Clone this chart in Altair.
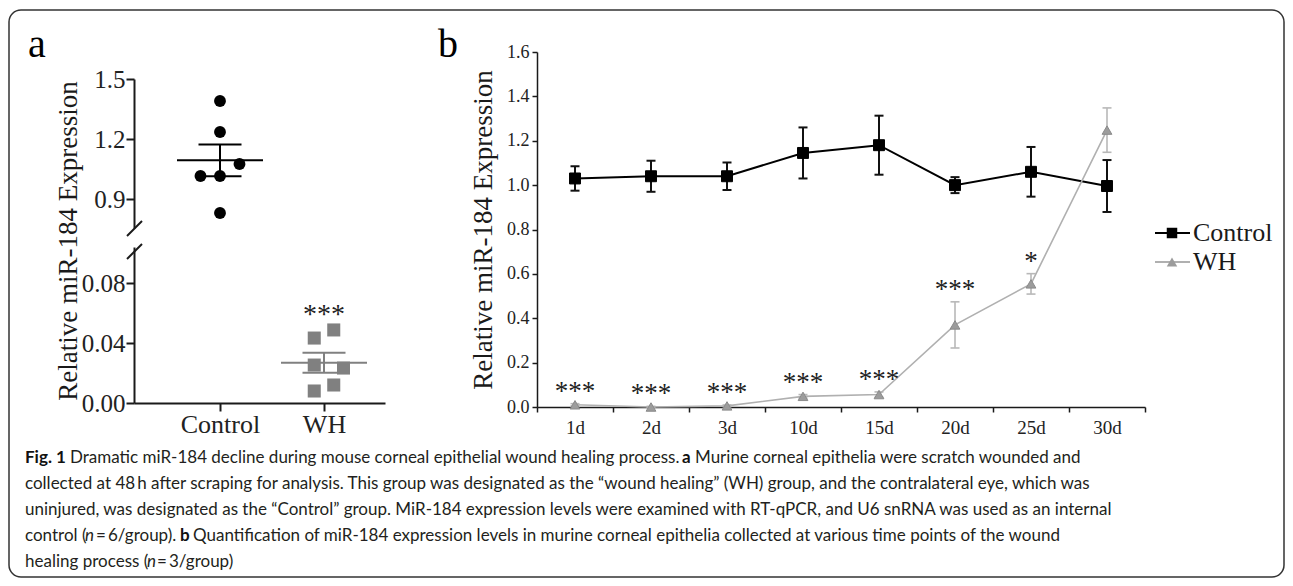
import altair as alt
import pandas as pd

# ---------------- data ----------------
GROUPS = ["Control", "WH"]
A_CONTROL = [1.39, 1.235, 1.075, 1.015, 1.015, 0.83]
A_CONTROL_COL = [0, 0, 1, -1, 0, 0]
A_WH = [0.0487, 0.0433, 0.0253, 0.0233, 0.012, 0.008]
A_WH_COL = [0.5, -0.5, -0.5, 1, 0.5, -0.5]
A_STARS = ["", "***"]
A_TICKS_UP = [0.9, 1.2, 1.5]
A_TICKS_LO = [0.0, 0.04, 0.08]

DAYS = ["1d", "2d", "3d", "10d", "15d", "20d", "25d", "30d"]
SERIES = ["Control", "WH"]
B_CONTROL = [1.03, 1.04, 1.04, 1.145, 1.18, 1.00, 1.06, 0.996]
B_CONTROL_ERR = [0.055, 0.07, 0.062, 0.115, 0.133, 0.036, 0.112, 0.117]
B_WH = [0.01, 0.0, 0.005, 0.048, 0.056, 0.37, 0.555, 1.248]
B_WH_ERR = [0.005, 0.003, 0.004, 0.008, 0.012, 0.104, 0.046, 0.10]
B_STARS = ["***", "***", "***", "***", "***", "***", "*", ""]
B_TICKS = [0.0, 0.2, 0.4, 0.6, 0.8, 1.0, 1.2, 1.4, 1.6]

Y_TITLE = "Relative miR-184 Expression"
PANEL_LETTERS = ["a", "b"]

CAP_TEXT = [
    "Fig. 1",
    "Dramatic miR-184 decline during mouse corneal epithelial wound healing process.",
    "a",
    "Murine corneal epithelia were scratch wounded and",
    "collected at 48\u2009h after scraping for analysis. This group was designated as the \u201cwound healing\u201d (WH) group, and the contralateral eye, which was",
    "uninjured, was designated as the \u201cControl\u201d group. MiR-184 expression levels were examined with RT-qPCR, and U6 snRNA was used as an internal",
    "control (",
    "n",
    "\u2009=\u20096/group).",
    "b",
    "Quantification of miR-184 expression levels in murine corneal epithelia collected at various time points of the wound",
    "healing process (",
    "n",
    "\u2009=\u20093/group)",
]

# ---------------- layout (page pixels) ----------------
W, H = 1277, 570


def c(p):
    return p - 8


SERIF = "Liberation Serif"
SANS = "Lato"
INK = "#1a1a1a"

CAP_LINE = [0, 0, 0, 0, 1, 2, 3, 3, 3, 3, 3, 4, 4, 4]
CAP_X = [25, 70, 682, 695, 25, 25, 25, 85, 96, 180, 193, 25, 147, 157]
CAP_STYLE = ["b", "n", "b", "n", "n", "n", "n", "i", "n", "b", "n", "n", "i", "n"]
CAP_Y = [458, 484, 510, 536, 562]
CAP_SIZE = 17

layers = []

# ---------------- panel a ----------------
dfa = pd.DataFrame({
    "group": ["Control"] * len(A_CONTROL) + ["WH"] * len(A_WH),
    "value": A_CONTROL + A_WH,
    "col": A_CONTROL_COL + A_WH_COL,
})
IDX = f"indexof({GROUPS!r}, datum.group)"
XA_L, XA_R, XA_0, XA_1 = 134, 385, 220, 324
XA_UNIT = XA_1 - XA_0
xa_scale = alt.Scale(domain=[(XA_L - XA_0) / XA_UNIT, (XA_R - XA_0) / XA_UNIT],
                     range=[c(XA_L), c(XA_R)], nice=False, zero=False)
COL_STEP = 19.5 / XA_UNIT

ya_up = alt.Scale(domain=[0.755, 1.5], range=[c(228), c(79)], nice=False, zero=False)
ya_lo = alt.Scale(domain=[0, 0.104], range=[c(403), c(247)], nice=False, zero=False)

axis_common_a = dict(tickSize=8, tickWidth=2, domainWidth=2, domainColor=INK, tickColor=INK,
                     labelFont=SERIF, labelColor="#222", grid=False, title="",
                     labelOverlap=False)
ax_a_up = alt.Axis(orient="left", offset=-c(XA_L), values=A_TICKS_UP, format=".1f",
                   labelFontSize=25, labelPadding=1, **axis_common_a)
ax_a_lo = alt.Axis(orient="left", offset=-c(XA_L), values=A_TICKS_LO, format=".2f",
                   labelFontSize=25, labelPadding=1, **axis_common_a)
ax_a_x = alt.Axis(orient="bottom", offset=-(H - c(403)), values=[0, 1],
                  labelExpr=f"{GROUPS!r}[datum.value]", labelFontSize=26, labelPadding=0,
                  labelFlush=False, labelAngle=0, **axis_common_a)


def a_layers(group, yscale, color, shape, size, yaxis, xaxis):
    src = alt.Chart(dfa).transform_filter(f"datum.group == '{group}'")
    agg = src.transform_aggregate(
        mean="mean(value)", sem="stderr(value)", top="max(value)", groupby=["group"]
    ).transform_calculate(
        xi=IDX, lo="datum.mean - datum.sem", hi="datum.mean + datum.sem",
        star=f"{A_STARS!r}[{IDX}]")
    X = alt.X("xi:Q", scale=xa_scale, axis=None)
    vert = agg.mark_rule(strokeWidth=2, color=color).encode(
        x=X, y=alt.Y("lo:Q", scale=yscale, axis=None), y2="hi:Q")
    mean = agg.mark_tick(orient="horizontal", size=86, thickness=2, color=color, opacity=1).encode(
        x=X, y=alt.Y("mean:Q", scale=yscale, axis=None))
    cap_hi = agg.mark_tick(orient="horizontal", size=43, thickness=2, color=color, opacity=1).encode(
        x=X, y=alt.Y("hi:Q", scale=yscale, axis=None))
    cap_lo = agg.mark_tick(orient="horizontal", size=43, thickness=2, color=color, opacity=1).encode(
        x=X, y=alt.Y("lo:Q", scale=yscale, axis=None))
    pts = src.transform_calculate(xp=f"{IDX} + datum.col * {COL_STEP}").mark_point(
        filled=True, shape=shape, size=size, color=color, opacity=1).encode(
        x=alt.X("xp:Q", scale=xa_scale, axis=xaxis),
        y=alt.Y("value:Q", scale=yscale, axis=yaxis))
    star = agg.mark_text(font=SERIF, fontSize=28, dy=-7, baseline="alphabetic", color="#222").encode(
        x=X, y=alt.Y("top:Q", scale=yscale, axis=None), text="star:N")
    return [vert, mean, cap_hi, cap_lo, pts, star]


layers += a_layers("Control", ya_up, "#000000", "circle", 140, ax_a_up, None)
layers += a_layers("WH", ya_lo, "#808080", "square", 170, ax_a_lo, ax_a_x)

# axis break slashes
one = pd.DataFrame({"k": [0]})
for (x1, y1, x2, y2) in [(127, 236, 142, 221), (127, 259, 142, 244)]:
    layers.append(alt.Chart(one).mark_rule(strokeWidth=2, color=INK).encode(
        x=alt.value(c(x1)), x2=alt.value(c(x2)), y=alt.value(c(y1)), y2=alt.value(c(y2))))

# ---------------- panel b ----------------
dfb = pd.DataFrame({
    "day": DAYS * 2,
    "series": ["Control"] * len(DAYS) + ["WH"] * len(DAYS),
    "value": B_CONTROL + B_WH,
    "err": B_CONTROL_ERR + B_WH_ERR,
    "stars": [""] * len(DAYS) + B_STARS,
})
xb = alt.Scale(type="band", domain=DAYS, range=[c(537), c(1145)], paddingInner=0, paddingOuter=0)
yb = alt.Scale(domain=[0, 1.6], range=[c(407), c(52)], nice=False, zero=False)
axis_common_b = dict(tickSize=5, tickWidth=1.5, domainWidth=1.5, domainColor=INK, tickColor=INK,
                     labelFont=SERIF, labelColor="#222", grid=False, title="", labelOverlap=False)
ax_b_x = alt.Axis(orient="bottom", offset=-(H - c(407)), tickBand="extent", labelFontSize=19,
                  labelPadding=6, labelAngle=0, **axis_common_b)
ax_b_y = alt.Axis(orient="left", offset=-c(537), values=B_TICKS, format=".1f", labelFontSize=18,
                  labelPadding=3, **axis_common_b)


def b_layers(series, line_color, line_w, err_color, err_w, shape, size, fill, stroke, xaxis, yaxis):
    src = alt.Chart(dfb).transform_filter(f"datum.series == '{series}'").transform_calculate(
        lo="datum.value - datum.err", hi="datum.value + datum.err")
    X = alt.X("day:N", scale=xb, axis=None)
    err = src.mark_rule(strokeWidth=err_w, color=err_color).encode(
        x=X, y=alt.Y("lo:Q", scale=yb, axis=None), y2="hi:Q")
    caps = [src.mark_tick(orient="horizontal", size=9, thickness=err_w, color=err_color, opacity=1).encode(
        x=X, y=alt.Y(f"{f}:Q", scale=yb, axis=None)) for f in ("lo", "hi")]
    line = src.mark_line(strokeWidth=line_w, color=line_color).encode(
        x=alt.X("day:N", scale=xb, axis=xaxis), y=alt.Y("value:Q", scale=yb, axis=yaxis))
    pts = src.mark_point(filled=True, shape=shape, size=size, fill=fill, stroke=stroke,
                         strokeWidth=1, opacity=1).encode(
        x=X, y=alt.Y("value:Q", scale=yb, axis=None))
    stars = src.mark_text(font=SERIF, fontSize=27, dy=-4, baseline="alphabetic", color="#222").encode(
        x=X, y=alt.Y("hi:Q", scale=yb, axis=None), text="stars:N")
    return [err] + caps + [line, pts, stars]


layers += b_layers("Control", "#000000", 2, "#111111", 2, "square", 120, "#000000", "#000000", ax_b_x, ax_b_y)
layers += b_layers("WH", "#b0b0b0", 1.6, "#b8b8b8", 1.6, "triangle-up", 95, "#9c9c9c", "#8a8a8a", None, None)

# legend (drawn)
leg = pd.DataFrame({"series": SERIES})
leg_y = alt.Y("series:N", scale=alt.Scale(type="point", domain=SERIES, range=[c(233), c(262)], padding=0),
              axis=None)
layers.append(alt.Chart(leg).mark_rule(strokeWidth=2).encode(
    x=alt.value(c(1155)), x2=alt.value(c(1190)), y=leg_y,
    color=alt.Color("series:N", scale=alt.Scale(domain=SERIES, range=["#000000", "#b0b0b0"]), legend=None)))
layers.append(alt.Chart(leg).mark_point(filled=True, size=110, opacity=1).encode(
    x=alt.value(c(1172)), y=leg_y,
    shape=alt.Shape("series:N", scale=alt.Scale(domain=SERIES, range=["square", "triangle-up"]), legend=None),
    color=alt.Color("series:N", scale=alt.Scale(domain=SERIES, range=["#000000", "#9c9c9c"]), legend=None)))
layers.append(alt.Chart(leg).mark_text(align="left", baseline="middle", font=SERIF, fontSize=26,
                                       color=INK).encode(x=alt.value(c(1193)), y=leg_y, text="series:N"))


# ---------------- texts ----------------
def label_text(txt, x, y, **kw):
    return alt.Chart(pd.DataFrame({"t": [txt]})).mark_text(**kw).encode(
        x=alt.value(c(x)), y=alt.value(c(y)), text="t:N")


layers.append(label_text(Y_TITLE, 69, 241, angle=270, font=SERIF, fontSize=27, align="center",
                         baseline="middle", color=INK))
layers.append(label_text(Y_TITLE, 484, 230, angle=270, font=SERIF, fontSize=27, align="center",
                         baseline="middle", color=INK))
layers.append(label_text(PANEL_LETTERS[0], 28, 57, font=SERIF, fontSize=40, align="left",
                         baseline="alphabetic", color="#000"))
layers.append(label_text(PANEL_LETTERS[1], 438, 57, font=SERIF, fontSize=40, align="left",
                         baseline="alphabetic", color="#000"))

for txt, ln, x, st in zip(CAP_TEXT, CAP_LINE, CAP_X, CAP_STYLE):
    kw = dict(font=SANS, fontSize=CAP_SIZE, align="left", baseline="middle", color="#231f20")
    if st == "b":
        kw["fontWeight"] = "bold"
        kw["color"] = "#111"
    if st == "i":
        kw["fontStyle"] = "italic"
    layers.append(label_text(txt, x, CAP_Y[ln], **kw))

# border
layers.append(alt.Chart(one).mark_rect(cornerRadius=12, fillOpacity=0, stroke="#333", strokeWidth=1.5).encode(
    x=alt.value(1), x2=alt.value(W - 1), y=alt.value(2), y2=alt.value(H - 1)))

chart = alt.layer(*layers).resolve_scale(
    x="independent", y="independent", color="independent", shape="independent"
).resolve_axis(x="independent", y="independent").properties(
    width=W, height=H, padding=0, autosize=alt.AutoSizeParams(type="none"), background="white"
).configure_view(stroke="transparent").configure_axis(grid=False)

chart.save("out.html", embed_options={"renderer": "svg", "actions": False})
